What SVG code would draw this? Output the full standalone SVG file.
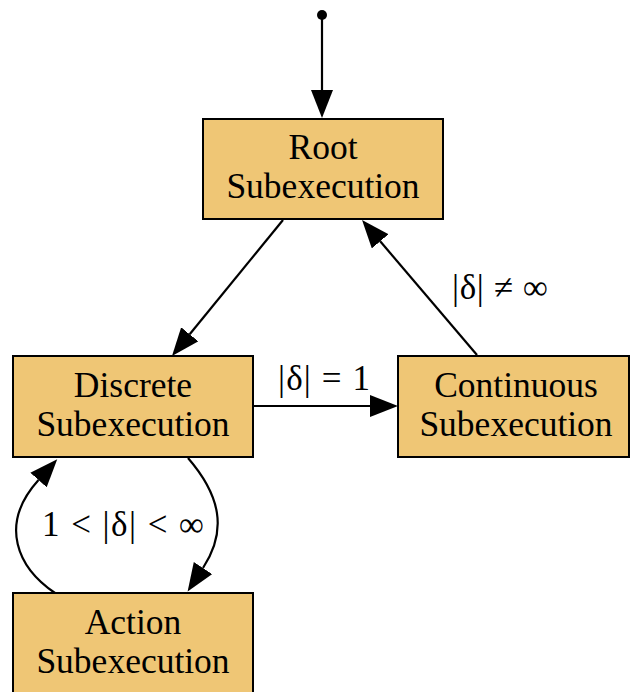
<svg xmlns="http://www.w3.org/2000/svg" width="630" height="692" viewBox="0 0 630 692">
  <style>
    .node rect { fill: #efc675; stroke: #000; stroke-width: 2; }
    .node text, .lbl { font-family: "Liberation Serif", "Times New Roman", serif; font-size: 35.5px; fill: #000; text-anchor: middle; }
    .lbl { font-size: 35px; }
    .edge { fill: none; stroke: #000; stroke-width: 2.2; }
  </style>
  <defs>
    <marker id="arrow" markerUnits="userSpaceOnUse" markerWidth="30" markerHeight="24" refX="0" refY="11" orient="auto">
      <path d="M0,0 L28,11 L0,22 Z" fill="#000"/>
    </marker>
  </defs>

  <g id="connectors">
    <circle cx="322" cy="15" r="5" fill="#000"/>
    <path class="edge" d="M322,15 L322,90" marker-end="url(#arrow)"/>
    <path class="edge" d="M283,220 L189.7,334.3" marker-end="url(#arrow)"/>
    <path class="edge" d="M477,355 L380.2,241.3" marker-end="url(#arrow)"/>
    <path class="edge" d="M254,406 L370,406" marker-end="url(#arrow)"/>
    <path class="edge" d="M188,458 C220,495 228,530 203,568" marker-end="url(#arrow)"/>
    <path class="edge" d="M55,593 C18,568 -2,525 38.5,480" marker-end="url(#arrow)"/>
    <text class="lbl" x="500" y="299" textLength="96" lengthAdjust="spacing">|δ| ≠ ∞</text>
    <text class="lbl" x="324" y="390" textLength="92" lengthAdjust="spacing">|δ| = 1</text>
    <text class="lbl" x="123" y="536" textLength="162" lengthAdjust="spacing">1 &lt; |δ| &lt; ∞</text>
  </g>

  <g id="root" class="node">
    <rect x="203" y="119" width="240" height="100"/>
    <text x="323" y="159">Root</text>
    <text x="323" y="198">Subexecution</text>
  </g>
  <g id="discrete" class="node">
    <rect x="13" y="356" width="240" height="101"/>
    <text x="133" y="397">Discrete</text>
    <text x="133" y="436">Subexecution</text>
  </g>
  <g id="continuous" class="node">
    <rect x="398" y="356" width="231" height="101"/>
    <text x="516" y="397">Continuous</text>
    <text x="516" y="436">Subexecution</text>
  </g>
  <g id="action" class="node">
    <rect x="13" y="593" width="240" height="101"/>
    <text x="133" y="634">Action</text>
    <text x="133" y="673">Subexecution</text>
  </g>
</svg>
